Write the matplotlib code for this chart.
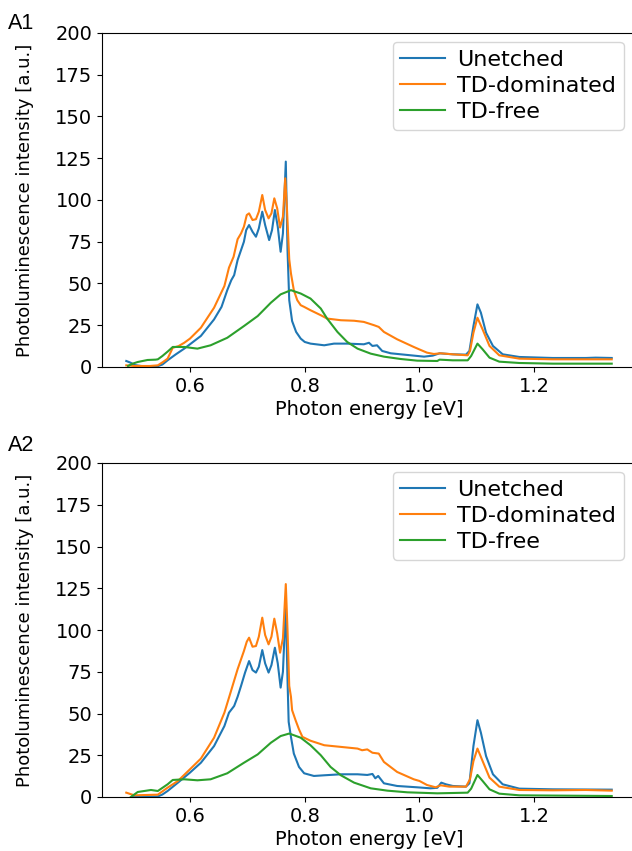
import matplotlib
matplotlib.use("Agg")
import matplotlib.pyplot as plt

# ---------------- data ----------------
a1_unetched_e = [0.489, 0.497, 0.503, 0.515, 0.530, 0.544, 0.552, 0.561, 0.575, 0.590, 0.600, 0.619, 0.642, 0.655,
                 0.665, 0.672, 0.677, 0.683, 0.689, 0.694, 0.698, 0.703, 0.709, 0.715, 0.720, 0.726, 0.731, 0.738,
                 0.743, 0.748, 0.753, 0.758, 0.762, 0.767, 0.770, 0.773, 0.778, 0.785, 0.793, 0.800, 0.810, 0.834,
                 0.851, 0.874, 0.903, 0.912, 0.918, 0.926, 0.935, 0.950, 0.979, 1.008, 1.023, 1.035, 1.058, 1.081,
                 1.087, 1.094, 1.101, 1.107, 1.116, 1.128, 1.145, 1.174, 1.232, 1.290, 1.307, 1.335]
a1_unetched_i = [3.6, 2.5, 1.2, 0.6, 0.4, 0.5, 1.5, 4, 7.5, 11, 13.6, 18.6, 28.5, 36,
                 46, 52, 55, 64, 70, 75, 82, 85, 81, 78, 83, 93, 85, 76,
                 82, 94, 84, 69, 80, 123, 70, 40, 27.5, 21, 17, 15, 14, 13,
                 14, 14, 13.6, 14.5, 12.6, 13, 9.6, 8.2, 7.2, 6.2, 6.8, 8.2, 7.6, 7.4,
                 9.6, 24.5, 37.5, 32.5, 20.5, 12.6, 7.6, 6, 5.4, 5.4, 5.6, 5.4]

a1_tddom_e = [0.489, 0.503, 0.530, 0.544, 0.553, 0.561, 0.570, 0.580, 0.590, 0.600, 0.619, 0.642, 0.660, 0.668,
              0.676, 0.683, 0.689, 0.694, 0.699, 0.703, 0.709, 0.715, 0.720, 0.726, 0.731, 0.737, 0.742, 0.747,
              0.752, 0.757, 0.762, 0.766, 0.769, 0.773, 0.776, 0.781, 0.787, 0.793, 0.799, 0.810, 0.828, 0.839,
              0.863, 0.886, 0.903, 0.912, 0.921, 0.929, 0.938, 0.961, 0.990, 1.000, 1.013, 1.025, 1.037, 1.058,
              1.084, 1.088, 1.094, 1.101, 1.110, 1.122, 1.139, 1.174, 1.232, 1.290, 1.335]
a1_tddom_i = [1, 0.6, 0.6, 1, 3, 5, 11.5, 12.5, 14.5, 17, 23.5, 35.5, 48.5, 59.5,
              66, 76.5, 80, 84, 91, 92, 88, 88.5, 93, 103, 94, 89, 92, 101,
              95, 83.5, 90, 113, 95, 64.5, 56, 46, 40, 37, 36, 34, 31, 29,
              28, 27.7, 27, 26, 25, 24, 21, 16.6, 12, 10.5, 8.6, 7.8, 8.2, 7.6,
              7, 9.6, 20.5, 29.5, 22.5, 12.6, 7, 5, 4.6, 4.6, 4.6]

a1_tdfree_e = [0.492, 0.500, 0.509, 0.526, 0.540, 0.544, 0.552, 0.562, 0.570, 0.590, 0.613, 0.636, 0.665, 0.694,
               0.718, 0.741, 0.758, 0.776, 0.793, 0.810, 0.828, 0.839, 0.857, 0.874, 0.892, 0.915, 0.938, 0.967,
               0.996, 1.031, 1.035, 1.058, 1.084, 1.090, 1.101, 1.110, 1.122, 1.139, 1.174, 1.232, 1.335]
a1_tdfree_i = [0.6, 2, 3, 4.2, 4.4, 4.6, 6.6, 9.5, 12, 12, 11, 13, 17.5, 24.5,
               30.5, 38.5, 43.5, 46, 44, 41, 35, 29, 21, 15, 11, 8, 6.2, 4.8,
               3.8, 3.6, 4.4, 4, 4, 6.6, 14, 10.6, 5.6, 3.2, 2.4, 2, 2]

a2_unetched_e = [0.500, 0.520, 0.544, 0.552, 0.561, 0.579, 0.600, 0.619, 0.642, 0.660, 0.668, 0.677, 0.683, 0.689,
                 0.696, 0.703, 0.709, 0.715, 0.720, 0.726, 0.731, 0.737, 0.742, 0.748, 0.753, 0.758, 0.762, 0.767,
                 0.770, 0.772, 0.776, 0.781, 0.790, 0.799, 0.816, 0.834, 0.863, 0.892, 0.909, 0.918, 0.923, 0.928,
                 0.938, 0.961, 0.996, 1.019, 1.031, 1.038, 1.046, 1.058, 1.081, 1.087, 1.094, 1.101, 1.107, 1.116,
                 1.128, 1.145, 1.174, 1.232, 1.335]
a2_unetched_i = [0.5, 0.2, 0.3, 1.5, 3.6, 8.6, 14.6, 20.5, 30.5, 42.5, 50.5, 54.5, 60, 66.5,
                 74.5, 81.4, 76, 74.5, 78, 88, 80, 74.5, 79, 89.4, 80, 65.5, 75, 115,
                 70, 45, 36, 26, 18, 14.2, 12.6, 13, 13.6, 13.6, 13.2, 13.8, 11.2, 12.6,
                 8.2, 6.6, 5.8, 5.2, 5.5, 8.6, 7.6, 6.6, 6.2, 8.2, 30.5, 46, 38.5, 24.5,
                 13.6, 7.6, 5, 4.6, 4.4]

a2_tddom_e = [0.489, 0.503, 0.544, 0.561, 0.579, 0.600, 0.619, 0.642, 0.660, 0.668, 0.683, 0.694, 0.699, 0.703,
              0.709, 0.715, 0.720, 0.726, 0.731, 0.737, 0.742, 0.747, 0.752, 0.757, 0.762, 0.767, 0.770, 0.773,
              0.776, 0.778, 0.784, 0.790, 0.796, 0.810, 0.834, 0.863, 0.892, 0.900, 0.909, 0.918, 0.929, 0.938,
              0.961, 0.990, 1.000, 1.013, 1.028, 1.037, 1.052, 1.081, 1.088, 1.094, 1.101, 1.110, 1.122, 1.139,
              1.174, 1.232, 1.290, 1.335]
a2_tddom_i = [2.6, 1, 1.4, 5.6, 9.6, 16.6, 23, 35.5, 50.5, 59.5, 76.5, 87.4, 93, 95.4,
              90, 90.4, 96, 107.4, 97, 91.4, 96, 106.8, 98, 86.4, 95, 127.5, 100, 66.5,
              60, 52, 46, 40.5, 36, 33.7, 31, 30, 29, 28, 28.5, 26.5, 26, 21,
              15, 10.6, 9.6, 7.2, 5.8, 7.0, 6.2, 6.2, 10.6, 21.5, 29, 21.5, 11.6, 6.2,
              4.2, 4, 4.2, 3.8]

a2_tdfree_e = [0.497, 0.509, 0.532, 0.544, 0.561, 0.570, 0.590, 0.613, 0.636, 0.665, 0.694, 0.718, 0.741, 0.758,
               0.773, 0.793, 0.810, 0.828, 0.845, 0.863, 0.886, 0.915, 0.944, 0.979, 1.031, 1.058, 1.084, 1.090,
               1.101, 1.110, 1.122, 1.139, 1.174, 1.335]
a2_tdfree_i = [0, 3, 4.2, 3.6, 7.6, 10.2, 10.6, 10, 10.6, 14.2, 20.5, 25.5, 32.5, 36.5,
               38, 35.5, 31, 25, 18, 13, 8.6, 5.2, 3.8, 2.8, 2.2, 2.4, 2.6, 5,
               13.2, 9.6, 4.6, 2, 1, 0.6]

series_labels = ["Unetched", "TD-dominated", "TD-free"]
panel_labels = ["A1", "A2"]
y_ticks = [0, 25, 50, 75, 100, 125, 150, 175, 200]
x_ticks = [0.6, 0.8, 1.0, 1.2]

panels = [
    [(a1_unetched_e, a1_unetched_i), (a1_tddom_e, a1_tddom_i), (a1_tdfree_e, a1_tdfree_i)],
    [(a2_unetched_e, a2_unetched_i), (a2_tddom_e, a2_tddom_i), (a2_tdfree_e, a2_tdfree_i)],
]
colors = ["#1f77b4", "#ff7f0e", "#2ca02c"]

# ---------------- figure ----------------
W, H = 632, 851
fig = plt.figure(figsize=(W / 100, H / 100), dpi=100)

axes_px = [(102, 33, 636, 367), (102, 463, 636, 797)]  # left, top, right, bottom
label_y = [29, 451]

for k, (series, (l, t, r, b)) in enumerate(zip(panels, axes_px)):
    ax = fig.add_axes([l / W, 1 - b / H, (r - l) / W, (b - t) / H])
    for (e, i), lab, c in zip(series, series_labels, colors):
        ax.plot(e, i, color=c, lw=1.5, label=lab)
    ax.set_ylim(0, 200)
    ax.set_yticks(y_ticks)
    ax.set_xticks(x_ticks)
    ax.spines["right"].set_visible(False)
    ax.tick_params(labelsize=14)
    ax.set_xlabel("Photon energy [eV]", fontsize=14, labelpad=3)
    ax.set_ylabel("Photoluminescence intensity [a.u.]", fontsize=13, labelpad=15)
    ax.legend(loc="upper right", bbox_to_anchor=(0.977, 0.973), borderaxespad=0,
              fontsize=16, labelspacing=0.27, borderpad=0.35, handletextpad=0.55)
    fig.text(8 / W, 1 - label_y[k] / H, panel_labels[k], fontsize=15.5,
             family="Liberation Sans", va="baseline", ha="left")

fig.savefig("out.png", dpi=100)
